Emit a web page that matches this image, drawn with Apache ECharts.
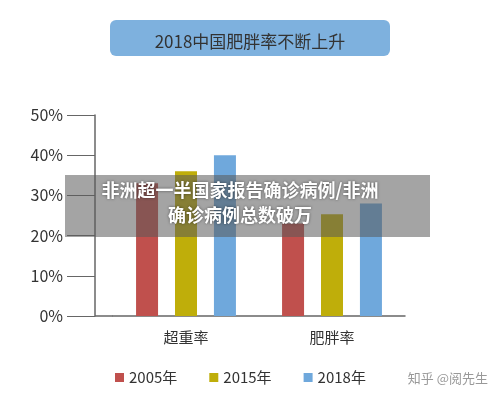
<!DOCTYPE html>
<html><head><meta charset="utf-8">
<script src="https://cdn.jsdelivr.net/npm/echarts@6/dist/echarts.min.js"></script>
<style>html,body{margin:0;background:#fff}#c{width:500px;height:412px}</style>
</head><body><div id="c"></div>
<script>
const categories = ['超重率', '肥胖率']
const years = ['2005年', '2015年', '2018年']
const v2005 = [33, 23]
const v2015 = [36, 25.3]
const v2018 = [40, 28]
const colors = ['#c0504d', '#bfae0a', '#6fa8dc']

const chart = echarts.init(document.getElementById('c'))
const font = '"Noto Sans CJK SC", sans-serif'
chart.setOption({
  animation: false,
  color: colors,
  title: {
    text: '2018中国肥胖率不断上升', left: 'center', top: 28,
    textStyle: { fontFamily: font, fontSize: 17, fontWeight: 'normal', color: '#333' }
  },
  graphic: [
    { type: 'rect', z: -1, shape: { x: 110, y: 20, width: 280, height: 36, r: 6 }, style: { fill: '#7eb1de' } },
    // x axis line continues left to the y axis
    { type: 'line', shape: { x1: 95, y1: 316, x2: 113, y2: 316 }, style: { stroke: '#666', lineWidth: 1.5 } },
    { type: 'rect', z: 100, shape: { x: 65, y: 175, width: 365, height: 62 }, style: { fill: 'rgba(90,90,90,0.55)' } },
    { type: 'text', z: 101, x: 240, y: 178, style: { text: '非洲超一半国家报告确诊病例/非洲\n确诊病例总数破万', fill: '#fff', font: 'bold 18px ' + font, textAlign: 'center', lineHeight: 25, textShadowColor: 'rgba(0,0,0,0.5)', textShadowBlur: 3 } },
    { type: 'text', right: 12, top: 372, style: { text: '知乎 @阅先生', fill: '#999', font: '13px ' + font } }
  ],
  legend: {
    bottom: 22, left: 110, itemWidth: 9, itemHeight: 9, itemGap: 32, icon: 'rect',
    textStyle: { fontFamily: font, fontSize: 15, color: '#333' }
  },
  grid: { left: 113, right: 95, top: 115, bottom: 96 },
  xAxis: {
    type: 'category', data: categories,
    axisLine: { lineStyle: { color: '#666', width: 1.5 } }, axisTick: { show: false },
    axisLabel: { fontFamily: font, fontSize: 15, color: '#333', margin: 14 }
  },
  yAxis: {
    type: 'value', min: 0, max: 50, interval: 10, offset: 18,
    axisLine: { show: true, lineStyle: { color: '#666', width: 1.5 } },
    axisTick: { show: true, length: 28, lineStyle: { color: '#666' } },
    splitLine: { show: false },
    axisLabel: { formatter: '{value}%', fontFamily: font, fontSize: 16, color: '#333', margin: 32 }
  },
  series: [
    { name: years[0], type: 'bar', data: v2005, barWidth: 22, barGap: '77%' },
    { name: years[1], type: 'bar', data: v2015, barWidth: 22, barGap: '77%' },
    { name: years[2], type: 'bar', data: v2018, barWidth: 22, barGap: '77%' }
  ]
})
</script></body></html>
